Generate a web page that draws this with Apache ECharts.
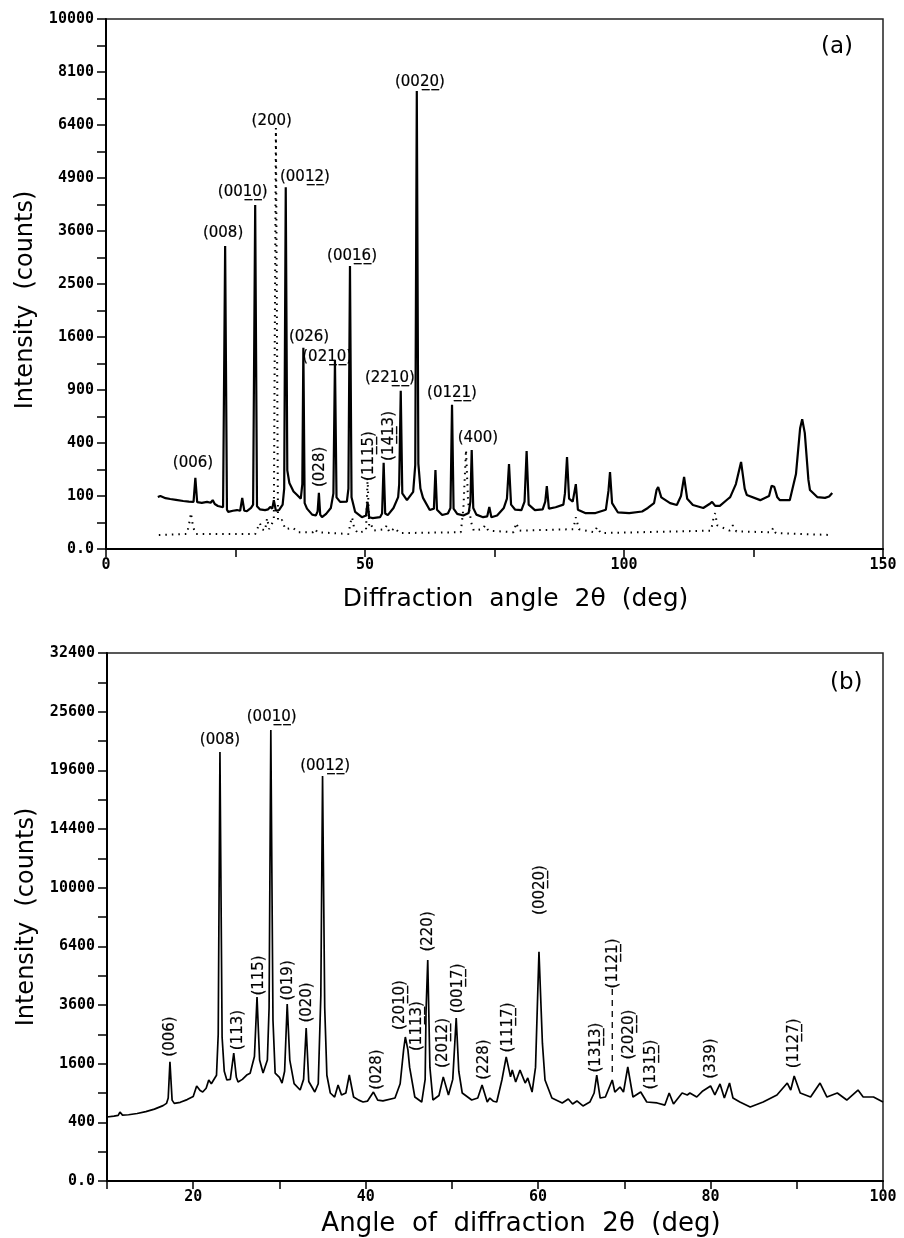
<!DOCTYPE html>
<html>
<head>
<meta charset="utf-8">
<script src="https://cdn.jsdelivr.net/npm/echarts@6/dist/echarts.min.js"></script>
<style>
  html, body { margin: 0; padding: 0; background: #fff; }
  #div_chart { width: 904px; height: 1238px; }
</style>
</head>
<body>
<div id="div_chart"></div>
<script>
"use strict";

// panel (a): measured pattern (solid), angle in deg / intensity in counts
const a_angle = [10.0, 10.5, 11.5, 12.4, 13.5, 14.9, 16.0, 16.9, 17.25, 17.6, 18.5, 19.5, 20.2, 20.6, 21.0, 21.6, 22.6, 23.0, 23.35, 23.6,
  24.5, 25.3, 25.9, 26.3, 26.7, 27.2, 28.0, 28.4, 28.8, 29.15, 29.7, 30.7, 31.3, 31.7, 32.1, 32.4, 32.8, 33.4, 34.1, 34.4,
  34.7, 35.0, 35.4, 36.2, 36.9, 37.6, 37.9, 38.1, 38.35, 38.8, 39.8, 40.5, 40.85, 41.1, 41.35, 41.7, 42.5, 43.4, 43.9, 44.2,
  44.5, 45.2, 46.5, 46.8, 47.1, 47.4, 48.1, 49.4, 50.2, 50.5, 50.8, 51.5, 52.9, 53.3, 53.6, 53.9, 54.4, 55.5, 56.4, 56.6,
  56.9, 57.2, 58.1, 59.3, 59.7, 60.0, 60.3, 60.7, 61.2, 62.5, 63.3, 63.6, 63.9, 64.9, 66.0, 66.5, 66.8, 67.1, 67.8, 69.0,
  70.0, 70.35, 70.6, 70.9, 71.5, 72.8, 73.6, 74.0, 74.4, 75.5, 76.8, 77.4, 77.8, 78.2, 79.0, 80.2, 80.8, 81.2, 81.6, 82.8,
  84.3, 84.8, 85.1, 85.5, 86.8, 88.3, 88.6, 89.0, 89.4, 90.1, 90.7, 91.1, 92.5, 94.5, 96.5, 97.0, 97.3, 97.7, 98.8, 101.0,
  103.5, 104.6, 105.8, 106.3, 106.6, 107.2, 108.9, 110.2, 111.0, 111.6, 112.2, 113.3, 115.3, 116.5, 117.0, 117.6, 118.5, 120.0, 120.5, 121.6,
  122.6, 123.3, 123.7, 126.3, 128.0, 128.5, 129.0, 129.6, 130.1, 132.0, 133.2, 134.0, 134.4, 134.9, 135.6, 135.9, 137.3, 138.8, 139.6, 140.2];
const a_counts = [96, 100, 92, 89, 86, 82, 80, 79, 180, 78, 76, 79, 76, 85, 72, 66, 62, 3270, 55, 49,
  52, 54, 52, 93, 52, 51, 60, 70, 4210, 65, 56, 54, 56, 63, 58, 85, 52, 54, 70, 130,
  4660, 220, 155, 118, 104, 90, 150, 1440, 75, 58, 42, 40, 50, 112, 42, 36, 44, 60, 110, 1270,
  95, 79, 80, 130, 2850, 95, 49, 36, 40, 79, 36, 34, 36, 45, 265, 45, 41, 60, 96, 150,
  890, 110, 85, 116, 250, 7470, 260, 130, 93, 54, 58, 222, 55, 41, 45, 60, 740, 58, 44, 40,
  46, 80, 349, 60, 42, 36, 38, 63, 36, 40, 60, 90, 257, 70, 55, 54, 80, 342, 70, 54,
  56, 80, 141, 58, 62, 70, 110, 301, 90, 80, 150, 55, 46, 46, 55, 120, 211, 75, 48, 46,
  50, 60, 75, 125, 137, 95, 75, 69, 100, 185, 90, 69, 60, 72, 79, 66, 66, 88, 96, 150,
  270, 130, 104, 85, 100, 142, 138, 95, 85, 85, 200, 520, 600, 480, 170, 124, 96, 93, 98, 112];

// panel (a): reference pattern (dotted)
const a_ref_angle = [10.2, 15.6, 16.0, 16.4, 16.8, 17.3, 28.8, 29.4, 29.7, 30.1, 30.7, 31.1, 31.5, 32.4, 32.8, 33.2, 34.0, 34.6, 36.1, 37.0,
  40.0, 40.4, 40.8, 46.8, 47.2, 47.5, 47.9, 48.6, 50.2, 50.5, 50.8, 51.1, 51.6, 53.8, 54.2, 54.7, 55.8, 56.6, 68.5, 69.0,
  69.5, 69.9, 70.5, 71.0, 72.7, 73.2, 73.8, 78.7, 79.2, 79.8, 90.2, 90.7, 91.3, 94.3, 94.8, 95.5, 116.8, 117.3, 117.6, 118.0,
  120.4, 121.0, 121.7, 128.4, 128.8, 129.3, 139.8];
const a_ref_counts = [7, 8, 20, 46, 18, 8, 8, 18, 24, 14, 12, 34, 14, 30, 6310, 28, 30, 14, 16, 10,
  10, 14, 10, 8, 25, 36, 16, 9, 12, 180, 20, 24, 12, 14, 20, 10, 16, 9, 10, 60,
  349, 80, 25, 12, 14, 20, 12, 10, 24, 12, 14, 36, 14, 10, 17, 9, 12, 35, 46, 20,
  12, 20, 11, 10, 16, 9, 7];

// panel (a): peak labels, {..} marks underlined digits
const a_lab_text = ["(006)", "(008)", "(00{10})", "(200)", "(00{12})", "(00{16})", "(00{20})", "(026)", "(02{10})", "(22{10})", "(01{21})", "(400)"];
const a_lab_angle = [16.8, 22.6, 26.4, 32.0, 38.4, 47.5, 60.6, 39.2, 42.7, 54.8, 66.8, 71.8];
const a_lab_counts = [263, 3555, 4540, 6520, 4925, 3055, 7765, 1600, 1312, 1041, 866, 438];
const a_vlab_text = ["(028)", "(11{15})", "(1{41}3)"];
const a_vlab_angle = [41.3, 50.8, 54.6];
const a_vlab_counts = [240, 308, 455];

// panel (b)
const b_angle = [10.0, 10.8, 11.3, 11.5, 11.8, 12.5, 13.5, 14.5, 15.5, 16.5, 16.9, 17.1, 17.3, 17.55, 17.8, 18.5, 19.3, 20.0, 20.4, 20.8,
  21.1, 21.5, 21.8, 22.1, 22.3, 22.7, 22.9, 23.1, 23.35, 23.6, 23.9, 24.3, 24.7, 25.0, 25.2, 25.7, 26.2, 26.6, 27.1, 27.4,
  27.7, 28.1, 28.6, 28.8, 29.0, 29.25, 29.5, 30.0, 30.3, 30.6, 30.9, 31.2, 31.7, 32.4, 32.8, 33.1, 33.4, 34.1, 34.5, 34.8,
  35.0, 35.25, 35.5, 35.9, 36.4, 36.8, 37.2, 37.7, 38.1, 38.6, 39.2, 39.7, 40.2, 40.9, 41.4, 42.0, 43.4, 44.0, 44.4, 44.6,
  44.9, 45.1, 45.7, 46.5, 46.9, 47.0, 47.2, 47.45, 47.8, 48.5, 49.0, 49.6, 50.1, 50.5, 50.8, 51.2, 52.3, 53.0, 53.5, 54.1,
  54.4, 54.8, 55.2, 55.8, 56.3, 56.8, 57.0, 57.4, 57.9, 58.5, 58.8, 59.3, 59.7, 60.1, 60.5, 60.8, 61.6, 62.8, 63.5, 64.0,
  64.5, 65.2, 66.0, 66.5, 66.8, 67.2, 67.8, 68.6, 68.9, 69.5, 69.9, 70.4, 71.0, 71.9, 72.6, 73.8, 74.7, 75.2, 75.7, 76.7,
  77.3, 77.6, 78.4, 79.1, 80.0, 80.5, 81.1, 81.6, 82.2, 82.6, 83.4, 84.6, 86.1, 87.7, 88.9, 89.3, 89.7, 90.4, 91.6, 92.7,
  93.5, 94.7, 95.8, 97.1, 97.7, 98.9, 100.0];
const b_counts = [476, 490, 500, 553, 505, 510, 530, 560, 600, 660, 700, 800, 1650, 760, 700, 720, 770, 830, 1050, 950,
  920, 1000, 1185, 1100, 1115, 1300, 2500, 21400, 2400, 1400, 1185, 1200, 1900, 1250, 1140, 1200, 1305, 1350, 1800, 3930,
  1700, 1355, 1700, 3500, 23650, 3000, 1355, 1250, 1115, 1400, 3640, 1700, 1100, 962, 1200, 2720, 1150, 920, 1100, 4000,
  19070, 3500, 1300, 900, 820, 1070, 860, 900, 1305, 820, 760, 725, 740, 920, 760, 745, 800, 1100, 2000, 2410,
  2000, 1500, 820, 725, 1200, 3320, 5680, 1500, 762, 850, 1260, 860, 1200, 3090, 1400, 900, 762, 800, 1070, 725,
  800, 740, 725, 1185, 1790, 1260, 1430, 1140, 1430, 1115, 1233, 920, 1500, 6100, 2200, 1185, 800, 708, 782, 690,
  745, 655, 725, 900, 1305, 800, 820, 1185, 920, 1027, 920, 1510, 820, 920, 725, 708, 670, 900, 690, 900,
  860, 900, 820, 942, 1050, 860, 1095, 800, 1115, 800, 725, 636, 725, 860, 1115, 962, 1280, 900, 820, 1115,
  820, 900, 762, 962, 820, 820, 725];

const b_lab_text = ["(008)", "(00{10})", "(00{12})"];
const b_lab_angle = [23.1, 29.1, 35.3];
const b_lab_counts = [22600, 25030, 20020];
const b_vlab_text = ["(006)", "(113)", "(115)", "(019)", "(020)", "(028)", "(20{10})", "(11{13})", "(220)", "(20{12})",
  "(00{17})", "(228)", "(11{17})", "(00{20})", "(13{13})", "(11{21})", "(20{20})", "(13{15})", "(339)", "(11{27})"];
const b_vlab_angle = [17.3, 25.2, 27.6, 31.0, 33.2, 41.3, 44.0, 46.0, 47.2, 49.0,
  50.7, 53.7, 56.5, 60.2, 66.7, 68.7, 70.6, 73.1, 80.1, 89.7];
const b_vlab_counts = [2427, 2650, 4910, 4675, 3705, 1445, 3600, 2790, 7240, 2215,
  4310, 1715, 2740, 9840, 2070, 5500, 2490, 1577, 1745, 2200];

// dashed marker for (11 21)
const b_mark_angle = [68.6, 68.6];
const b_mark_counts = [1380, 4370];

//
// helpers
//
// intensity axis is square-root scaled
function to_xy(angles, counts) {
  return angles.map((x, i) => [x, Math.sqrt(counts[i])]);
}

// "{..}" -> digits with combining low line
function underline(str) {
  return str.replace(/\{([^}]*)\}/g, function (m, s) {
    return s.split("").map(c => c + "\u0332").join("");
  });
}

function label_data(texts, angles, counts) {
  return texts.map((t, i) => ({ name: underline(t), value: [angles[i], Math.sqrt(counts[i])] }));
}

const font_ticks = "DejaVu Sans Mono";
const font_text = "DejaVu Sans";

function x_axis(grid, min, max, step, label_step, name, name_gap, name_size, name_pad) {
  return {
    type: "value", gridIndex: grid, min: min, max: max, interval: step,
    name: name, nameLocation: "middle", nameGap: name_gap,
    nameTextStyle: { fontFamily: font_text, fontSize: name_size, color: "#000", verticalAlign: "top", padding: name_pad },
    axisLine: { lineStyle: { color: "#000", width: 2 } },
    axisTick: { show: true, length: 8, lineStyle: { color: "#000", width: 1.5 } },
    axisLabel: {
      showMinLabel: true, showMaxLabel: true, margin: 9,
      fontFamily: font_ticks, fontWeight: "bold", fontSize: 15, color: "#000",
      formatter: v => (v % label_step === 0 ? String(v) : "")
    },
    splitLine: { show: false },
  };
}

function y_axis(grid, max, step, label_step, name_pad) {
  return {
    type: "value", gridIndex: grid, min: 0, max: max, interval: step,
    name: "Intensity  (counts)", nameLocation: "middle", nameGap: 65, nameRotate: 90,
    nameTextStyle: { fontFamily: font_text, fontSize: 24, color: "#000", padding: name_pad },
    axisLine: { lineStyle: { color: "#000", width: 2 } },
    axisTick: { show: true, length: 9, lineStyle: { color: "#000", width: 1.5 } },
    axisLabel: {
      showMinLabel: true, showMaxLabel: true, margin: 12,
      fontFamily: font_ticks, fontWeight: "bold", fontSize: 15, color: "#000",
      formatter: v => (v % label_step !== 0 ? "" : (v === 0 ? "0.0" : String(v * v)))
    },
    splitLine: { show: false },
  };
}

function label_series(grid, data, rotate) {
  return {
    type: "scatter", xAxisIndex: grid, yAxisIndex: grid, data: data,
    symbol: "circle", symbolSize: 1, itemStyle: { color: "rgba(0,0,0,0)" }, silent: true, z: 5,
    labelLayout: { hideOverlap: false },
    label: {
      show: true, position: "inside", rotate: rotate,
      align: "center", verticalAlign: "middle",
      fontFamily: font_text, fontSize: 15, color: "#000", opacity: 1,
      textBorderWidth: 0.2, textBorderColor: "#000",
      formatter: p => p.name
    },
  };
}

const chart = echarts.init(document.getElementById("div_chart"), null, { renderer: "canvas" });

chart.setOption({
  animation: false,
  backgroundColor: "#fff",
  grid: [
    { left: 106, top: 19, width: 777, height: 530, show: true, borderColor: "#222", borderWidth: 1.5, outerBoundsMode: "none" },
    { left: 107, top: 653, width: 776, height: 528, show: true, borderColor: "#222", borderWidth: 1.5, outerBoundsMode: "none" },
  ],
  xAxis: [
    x_axis(0, 0, 150, 25, 50, "Diffraction  angle  2θ  (deg)", 38, 25, [0, 0, 0, 42]),
    x_axis(1, 10, 100, 10, 20, "Angle  of  diffraction  2θ  (deg)", 30, 26, [0, 0, 0, 52]),
  ],
  yAxis: [
    y_axis(0, 100, 5, 10, [0, 32, 0, 0]),
    y_axis(1, 180, 10, 20, [0, 0, 0, 0]),
  ],
  graphic: [
    { type: "text", left: 821, top: 36, style: { text: "(a)", fontFamily: font_text, fontSize: 23, fill: "#000" } },
    { type: "text", left: 830, top: 672, style: { text: "(b)", fontFamily: font_text, fontSize: 23, fill: "#000" } },
  ],
  series: [
    {
      type: "line", xAxisIndex: 0, yAxisIndex: 0, data: to_xy(a_ref_angle, a_ref_counts),
      showSymbol: false, silent: true,
      lineStyle: { color: "#000", width: 2, type: [1.5, 5] },
    },
    {
      type: "line", xAxisIndex: 0, yAxisIndex: 0, data: to_xy(a_angle, a_counts),
      showSymbol: false, silent: true,
      lineStyle: { color: "#000", width: 2.2 },
    },
    label_series(0, label_data(a_lab_text, a_lab_angle, a_lab_counts), 0),
    label_series(0, label_data(a_vlab_text, a_vlab_angle, a_vlab_counts), 90),
    {
      type: "line", xAxisIndex: 1, yAxisIndex: 1, data: to_xy(b_angle, b_counts),
      showSymbol: false, silent: true,
      lineStyle: { color: "#000", width: 1.7 },
    },
    {
      type: "line", xAxisIndex: 1, yAxisIndex: 1, data: to_xy(b_mark_angle, b_mark_counts),
      showSymbol: false, silent: true,
      lineStyle: { color: "#000", width: 1.3, type: [6, 5] },
    },
    label_series(1, label_data(b_lab_text, b_lab_angle, b_lab_counts), 0),
    label_series(1, label_data(b_vlab_text, b_vlab_angle, b_vlab_counts), 90),
  ],
});
</script>
</body>
</html>
